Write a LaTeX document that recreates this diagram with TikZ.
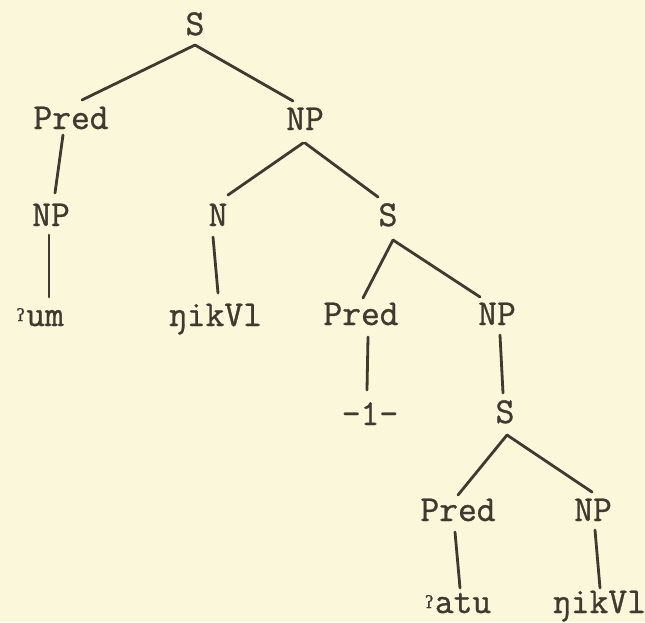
\documentclass[tikz,border=0pt]{standalone}
\usepackage{fontspec}
\usetikzlibrary{calc}
\newfontfamily\tw{Latin Modern Mono}[FakeBold=0.9]
\newfontfamily\dvs{DejaVu Serif}[FakeBold=0.6]
\newcommand\glst{\raisebox{5pt}{\dvs\fontsize{17}{17}\selectfont ʔ}\hspace{1pt}}
\definecolor{paper}{RGB}{251,247,218}
\definecolor{ink}{RGB}{62,58,48}
\tikzset{
  lab/.style={font=\tw\fontsize{36.5}{38}\selectfont, text=ink, inner sep=0pt, text height=20pt, text depth=0pt},
  edge/.style={draw=ink, line width=2.8pt, line cap=round}
}
\begin{document}
\begin{tikzpicture}[x=1pt,y=-1pt]
\fill[paper] (0,0) rectangle (645,622);
\useasboundingbox (0,0) rectangle (645,622);
% nodes
\node[lab] (S1) at (195,25) {S};
\node[lab] (P1) at (71,119) {Pred};
\node[lab] (NP1) at (305,120) {NP};
\node[lab] (NP2) at (51,216) {NP};
\node[lab] (N1) at (218,216) {N};
\node[lab] (S2) at (388,216) {S};
\node[lab] (um) at (40,316) {\glst um};
\node[lab] (nik1) at (215,316) {ŋikVl};
\node[lab] (P2) at (361,315) {Pred};
\node[lab] (NP3) at (497,315) {NP};
\node[lab] (one) at (370,415) {-1-};
\node[lab] (S3) at (505,413) {S};
\node[lab] (P3) at (458,511) {Pred};
\node[lab] (NP4) at (593,511) {NP};
\node[lab] (atu) at (458,603) {\glst atu};
\node[lab] (nik2) at (599,603) {ŋikVl};
% edges
\draw[edge] ($(S1)+(0,20)$) -- ($(P1)+(11,-19)$);
\draw[edge] ($(S1)+(0,20)$) -- ($(NP1)+(-12,-19)$);
\draw[edge] ($(P1)+(-8,16)$) -- ($(NP2)+(4,-23)$);
\draw[edge] ($(NP2)+(-2,19)$) -- ($(um)+(9,-19)$);
\draw[edge] ($(NP1)+(-2,23)$) -- ($(N1)+(10,-21)$);
\draw[edge] ($(NP1)+(0,23)$) -- ($(S2)+(-10,-19)$);
\draw[edge] ($(N1)+(-5,21)$) -- ($(nik1)+(3,-23)$);
\draw[edge] ($(S2)+(5,24)$) -- ($(P2)+(2,-17)$);
\draw[edge] ($(S2)+(5,24)$) -- ($(NP3)+(-17,-18)$);
\draw[edge] ($(P2)+(7,22)$) -- ($(one)+(-3,-25)$);
\draw[edge] ($(NP3)+(3,20)$) -- ($(S3)+(-2,-20)$);
\draw[edge] ($(S3)+(2,22)$) -- ($(P3)+(0,-16)$);
\draw[edge] ($(S3)+(2,22)$) -- ($(NP4)+(-1,-19)$);
\draw[edge] ($(P3)+(-3,21)$) -- ($(atu)+(2,-15)$);
\draw[edge] ($(NP4)+(2,19)$) -- ($(nik2)+(1,-15)$);
\end{tikzpicture}
\end{document}
